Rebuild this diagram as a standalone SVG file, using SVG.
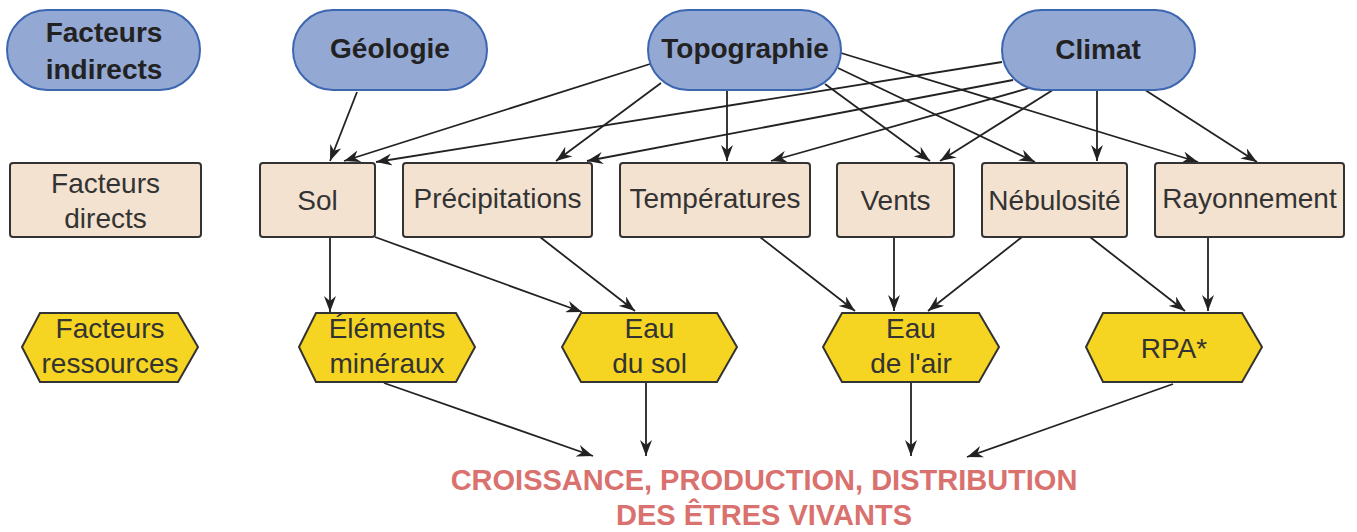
<svg xmlns="http://www.w3.org/2000/svg" width="1357" height="532" viewBox="0 0 1357 532">
<defs>
<style>
.pill{fill:#94a8d4;stroke:#3d66b0;stroke-width:2}
.rect{fill:#f3e2d0;stroke:#333;stroke-width:2}
.hex{fill:#f6d522;stroke:#333;stroke-width:2}
.tb{font-family:"Liberation Sans",Arial,sans-serif;font-weight:bold;font-size:28px;fill:#222;text-anchor:middle}
.t{font-family:"Liberation Sans",Arial,sans-serif;font-size:28px;fill:#333;text-anchor:middle}
.out{font-family:"Liberation Sans",Arial,sans-serif;font-weight:bold;font-size:29px;fill:#d9716e;text-anchor:middle}
.c line{stroke:#222;stroke-width:1.8;marker-end:url(#ah)}
</style>
<marker id="ah" markerUnits="userSpaceOnUse" markerWidth="17" markerHeight="12" refX="16" refY="6" orient="auto">
<path d="M0,0 L16,6 L0,12 L5,6 Z" fill="#222"/>
</marker>
</defs>
<rect width="1357" height="532" fill="#fff"/>

<g class="c" id="connectors">
<line x1="357" y1="92" x2="330" y2="161"/>
<line x1="650" y1="64" x2="344" y2="161"/>
<line x1="661" y1="83" x2="556" y2="161"/>
<line x1="727" y1="90" x2="727" y2="161"/>
<line x1="825" y1="84" x2="930" y2="161"/>
<line x1="838" y1="68" x2="1035" y2="162"/>
<line x1="841" y1="53" x2="1198" y2="162"/>
<line x1="1002" y1="62" x2="376" y2="162"/>
<line x1="1013" y1="80" x2="587" y2="161"/>
<line x1="1033" y1="87" x2="771" y2="161"/>
<line x1="1056" y1="88" x2="940" y2="161"/>
<line x1="1097" y1="90" x2="1097" y2="161"/>
<line x1="1142" y1="88" x2="1257" y2="162"/>
<line x1="330" y1="237" x2="330" y2="312"/>
<line x1="375" y1="237" x2="582" y2="312"/>
<line x1="540" y1="237" x2="635" y2="311"/>
<line x1="760" y1="237" x2="855" y2="311"/>
<line x1="894" y1="237" x2="894" y2="311"/>
<line x1="1022" y1="237" x2="928" y2="311"/>
<line x1="1090" y1="237" x2="1185" y2="311"/>
<line x1="1208" y1="237" x2="1208" y2="311"/>
<line x1="384" y1="383" x2="593" y2="456"/>
<line x1="646" y1="383" x2="646" y2="456"/>
<line x1="911" y1="383" x2="911" y2="456"/>
<line x1="1173" y1="384" x2="967" y2="457"/>
</g>

<g id="facteurs-indirects"><rect class="pill" x="7" y="10" width="193" height="80" rx="40"/><text class="tb" x="104" y="42">Facteurs</text><text class="tb" x="104" y="79">indirects</text></g>
<g id="geologie"><rect class="pill" x="293" y="10" width="194" height="80" rx="40"/><text class="tb" x="390" y="58">Géologie</text></g>
<g id="topographie"><rect class="pill" x="648" y="10" width="193" height="80" rx="40"/><text class="tb" x="745" y="58">Topographie</text></g>
<g id="climat"><rect class="pill" x="1002" y="10" width="193" height="80" rx="40"/><text class="tb" x="1098" y="59">Climat</text></g>

<g id="facteurs-directs"><rect class="rect" x="10" y="163" width="191" height="74" rx="3"/><text class="t" x="105.5" y="193">Facteurs</text><text class="t" x="105.5" y="228">directs</text></g>
<g id="sol"><rect class="rect" x="260" y="163" width="115" height="74" rx="3"/><text class="t" x="317.5" y="210">Sol</text></g>
<g id="precipitations"><rect class="rect" x="403" y="163" width="189" height="74" rx="3"/><text class="t" x="497.5" y="208">Précipitations</text></g>
<g id="temperatures"><rect class="rect" x="620" y="163" width="190" height="74" rx="3"/><text class="t" x="715" y="208">Températures</text></g>
<g id="vents"><rect class="rect" x="837" y="163" width="117" height="74" rx="3"/><text class="t" x="895.5" y="210">Vents</text></g>
<g id="nebulosite"><rect class="rect" x="982" y="163" width="145" height="74" rx="3"/><text class="t" x="1054.5" y="210">Nébulosité</text></g>
<g id="rayonnement"><rect class="rect" x="1155" y="163" width="189" height="74" rx="3"/><text class="t" x="1249.5" y="208">Rayonnement</text></g>

<g id="facteurs-ressources"><polygon class="hex" points="22,347 40,313 178,313 198,347 178,382 40,382"/><text class="t" x="110" y="338">Facteurs</text><text class="t" x="110" y="373">ressources</text></g>
<g id="elements-mineraux"><polygon class="hex" points="299,347 316,313 456,313 475,347 456,382 316,382"/><text class="t" x="387" y="338">Éléments</text><text class="t" x="387" y="373">minéraux</text></g>
<g id="eau-du-sol"><polygon class="hex" points="562,347 581,313 717,313 737,347 717,382 581,382"/><text class="t" x="649.5" y="338">Eau</text><text class="t" x="649.5" y="373">du sol</text></g>
<g id="eau-de-lair"><polygon class="hex" points="823,347 842,313 979,313 999,347 979,382 842,382"/><text class="t" x="911" y="338">Eau</text><text class="t" x="911" y="373">de l'air</text></g>
<g id="rpa"><polygon class="hex" points="1086,347 1103,313 1242,313 1262,347 1242,382 1103,382"/><text class="t" x="1174" y="358">RPA*</text></g>

<g id="resultat"><text class="out" x="764" y="490">CROISSANCE, PRODUCTION, DISTRIBUTION</text><text class="out" x="764" y="525">DES ÊTRES VIVANTS</text></g>
</svg>
